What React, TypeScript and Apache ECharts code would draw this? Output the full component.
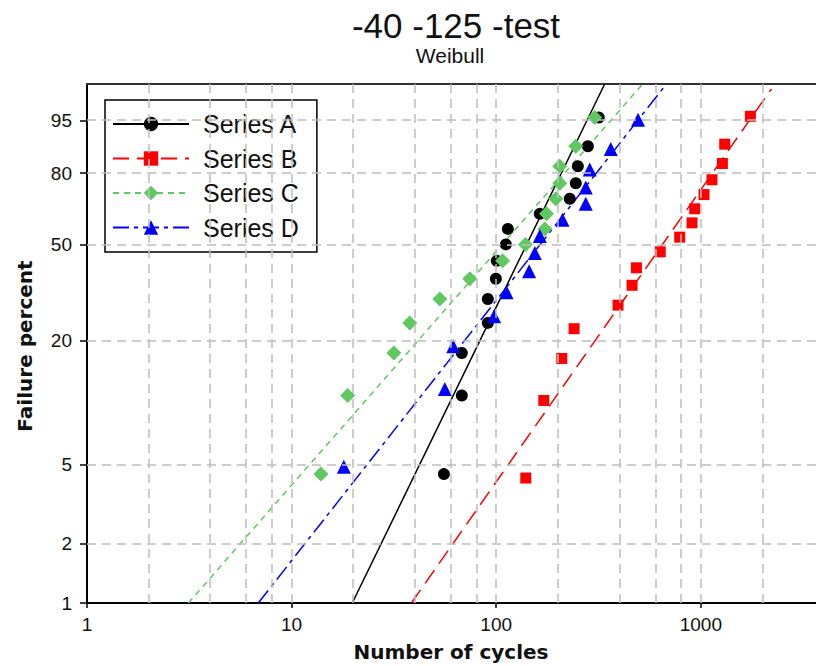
import React, { useEffect, useRef } from 'react';
import * as echarts from 'echarts';

// ---- data (cycles, failure percent) ----
const seriesNames = ['Series A', 'Series B', 'Series C', 'Series D'];

const cyclesA = [55.5, 67.9, 67.9, 91.0, 91.0, 99.6, 100.7, 111.5, 114.0, 163.3, 228.8, 244.9, 250.6, 280.5, 317.0];
const percentA = [4.5, 11.0, 17.5, 24.0, 30.5, 37.0, 43.5, 50.0, 56.5, 63.0, 69.5, 76.0, 82.5, 89.0, 95.5];

const cyclesB = [139.5, 170.8, 209.2, 240.2, 393.9, 461.2, 484.6, 633.5, 788.8, 905.7, 933.5, 1036.6, 1134, 1275, 1308.7, 1747];
const percentB = [4.3, 10.4, 16.5, 22.6, 28.7, 34.8, 40.9, 47.0, 53.0, 59.1, 65.2, 71.3, 77.4, 83.5, 89.6, 95.7];

const cyclesC = [13.9, 18.8, 31.6, 37.8, 53.0, 74.3, 107.4, 139.0, 172.8, 176.1, 195.6, 204.5, 204.5, 244.8, 303.2];
const percentC = [4.5, 11.0, 17.5, 24.0, 30.5, 37.0, 43.5, 50.0, 56.5, 63.0, 69.5, 76.0, 82.5, 89.0, 95.5];

const cyclesD = [18.0, 56.1, 61.6, 97.7, 112.3, 144.8, 154.4, 163.3, 210.8, 274.0, 274.0, 286.6, 362.9, 493.4];
const percentD = [4.9, 11.8, 18.8, 25.7, 32.6, 39.6, 46.5, 53.5, 60.4, 67.4, 74.3, 81.3, 88.2, 95.1];

// fitted Weibull lines: end points [cycles, percent]
const fitA = [[19.8, 1], [339, 99]];
const fitB = [[38.5, 1], [2213, 98.7]];
const fitC = [[3.13, 1], [520, 99]];
const fitD = [[6.87, 1], [679, 99]];

const xTickLabels = [1, 10, 100, 1000];
const yTickPercents = [1, 2, 5, 20, 50, 80, 95];
const yGridPercents = [2, 5, 20, 50, 80, 95];
const xGridValues = [2, 4, 6, 8, 10, 20, 40, 60, 80, 100, 200, 400, 600, 800, 1000, 2000];

const xMin = 1;
const xMax = 4000;
const yMinPct = 1;
const yMaxPct = 99;

// Weibull probability scale
const wy = (p: number) => Math.log(-Math.log(1 - p / 100));
const unwy = (v: number) => 100 * (1 - Math.exp(-Math.exp(v)));

const colors = ['#000000', '#ff0000', '#60c860', '#0000ff'];
const symbols = ['circle', 'rect', 'diamond', 'triangle'];
const symbolSizes = [12, 11, 15, 14];
const dashes: any[] = ['solid', [16, 8], [6, 5], [16, 5, 4, 5]];

const FONT = '"Liberation Sans", Arial, sans-serif';

export default function App() {
  const ref = useRef<HTMLDivElement>(null);

  useEffect(() => {
    if (!ref.current) return;
    const chart = echarts.init(ref.current, null, { renderer: 'svg' });

    const cycles = [cyclesA, cyclesB, cyclesC, cyclesD];
    const percents = [percentA, percentB, percentC, percentD];
    const fits = [fitA, fitB, fitC, fitD];

    const series: any[] = [];

    // gridlines (dashed), drawn via markLine on an empty helper series
    series.push({
      type: 'line',
      name: '__grid',
      data: [],
      silent: true,
      z: 1,
      markLine: {
        silent: true,
        animation: false,
        symbol: ['none', 'none'],
        label: { show: false },
        lineStyle: { color: '#bdbdbd', width: 1.5, type: [9, 6] },
        emphasis: { disabled: true },
        data: [
          ...xGridValues.map((v) => ({ xAxis: v })),
          ...yGridPercents.map((p) => ({ yAxis: wy(p) })),
        ],
      },
    });

    seriesNames.forEach((name, i) => {
      series.push({
        type: 'line',
        name,
        data: fits[i].map(([c, p]) => [c, wy(p)]),
        showSymbol: false,
        symbol: symbols[i],
        symbolSize: symbolSizes[i],
        itemStyle: { color: colors[i] },
        lineStyle: { color: colors[i], width: 1.5, type: dashes[i] },
        silent: true,
        z: 3,
      });
    });
    seriesNames.forEach((name, i) => {
      series.push({
        type: 'scatter',
        name,
        data: cycles[i].map((c, k) => [c, wy(percents[i][k])]),
        symbol: symbols[i],
        symbolSize: symbolSizes[i],
        itemStyle: { color: colors[i], opacity: 1 },
        silent: true,
        z: 4,
      });
    });

    const option: any = {
      animation: false,
      backgroundColor: '#ffffff',
      grid: {
        left: 87,
        top: 84,
        width: 737,
        height: 519,
        containLabel: false,
        outerBoundsMode: 'none',
      },
      xAxis: [
        {
          type: 'log',
          logBase: 10,
          min: xMin,
          max: xMax,
          position: 'bottom',
          axisLine: { show: true, onZero: false, lineStyle: { color: '#000', width: 2 } },
          axisTick: { show: true, length: 5, customValues: xTickLabels, lineStyle: { color: '#000', width: 1.5 } },
          axisLabel: {
            customValues: xTickLabels,
            formatter: (v: number) => String(Math.round(v)),
            fontFamily: FONT,
            fontSize: 19,
            color: '#111',
            margin: 12,
          },
          splitLine: { show: false },
          minorTick: { show: false },
        },
        {
          type: 'log',
          logBase: 10,
          min: xMin,
          max: xMax,
          position: 'top',
          axisLine: { show: true, onZero: false, lineStyle: { color: '#333', width: 2 } },
          axisTick: { show: false },
          axisLabel: { show: false },
          splitLine: { show: false },
        },
      ],
      yAxis: {
        type: 'value',
        min: wy(yMinPct),
        max: wy(yMaxPct),
        axisLine: { show: true, onZero: false, lineStyle: { color: '#000', width: 2 } },
        axisTick: {
          show: true,
          length: 7,
          customValues: yTickPercents.map(wy),
          lineStyle: { color: '#000', width: 1.5 },
        },
        axisLabel: {
          customValues: yTickPercents.map(wy),
          formatter: (v: number) => String(Math.round(unwy(v))),
          fontFamily: FONT,
          fontSize: 19,
          color: '#111',
          margin: 15,
        },
        splitLine: { show: false },
      },
      legend: {
        data: seriesNames,
        orient: 'vertical',
        left: 105,
        top: 100,
        padding: [11.5, 18, 12, 7],
        itemWidth: 76,
        itemHeight: 18,
        itemGap: 9.5,
        backgroundColor: '#ffffff',
        borderColor: '#000',
        borderWidth: 1.5,
        borderRadius: 0,
        selectedMode: false,
        textStyle: { fontFamily: FONT, fontSize: 25, lineHeight: 25, color: '#111', padding: [0, 0, 0, 9] },
      },
      graphic: [
        {
          type: 'text',
          x: 456,
          y: 25,
          style: {
            text: '-40 -125 -test',
            font: '35px "Liberation Sans", Arial, sans-serif',
            fill: '#111',
            textAlign: 'center',
            align: 'center',
            textVerticalAlign: 'middle',
            verticalAlign: 'middle',
          },
        },
        {
          type: 'text',
          x: 450,
          y: 55,
          style: {
            text: 'Weibull',
            font: '21px "Liberation Sans", Arial, sans-serif',
            fill: '#111',
            textAlign: 'center',
            align: 'center',
            textVerticalAlign: 'middle',
            verticalAlign: 'middle',
          },
        },
        {
          type: 'text',
          x: 451,
          y: 652,
          style: {
            text: 'Number of cycles',
            font: 'bold 20px "DejaVu Sans", sans-serif',
            fill: '#111',
            textAlign: 'center',
            align: 'center',
            textVerticalAlign: 'middle',
            verticalAlign: 'middle',
          },
        },
        {
          type: 'text',
          x: 25,
          y: 346,
          rotation: Math.PI / 2,
          style: {
            text: 'Failure percent',
            font: 'bold 20px "DejaVu Sans", sans-serif',
            fill: '#111',
            textAlign: 'center',
            align: 'center',
            textVerticalAlign: 'middle',
            verticalAlign: 'middle',
          },
        },
      ],
      series,
    };

    chart.setOption(option);
    return () => {
      chart.dispose();
    };
  }, []);

  return (
    <div
      ref={ref}
      style={{ position: 'fixed', left: 0, top: 0, width: 816, height: 666, background: '#fff' }}
    />
  );
}
